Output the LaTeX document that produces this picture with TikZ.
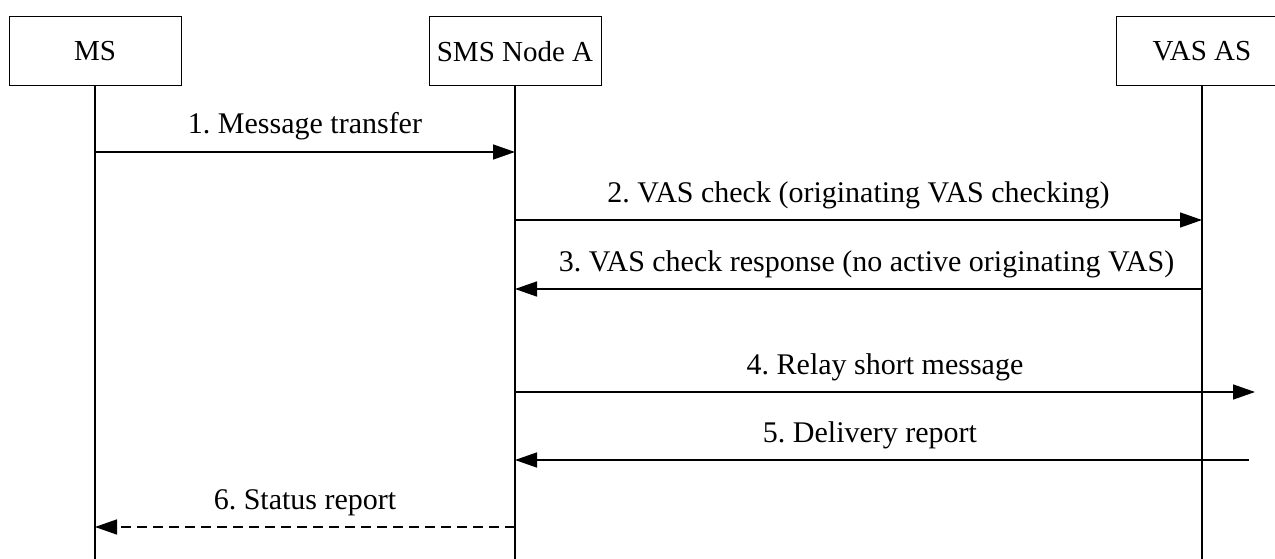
\documentclass[tikz,border=0pt]{standalone}
\usepackage{fontspec}
\setmainfont{Liberation Serif}
\frenchspacing
\usetikzlibrary{arrows.meta}
\begin{document}
\begin{tikzpicture}[x=1pt,y=-1pt,
  every node/.style={font=\fontsize{30}{33}\selectfont},
  entity/.style={draw, line width=1pt, minimum height=69pt, inner sep=0pt, font=\fontsize{29}{32}\selectfont},
  life/.style={line width=1.4pt},
  msg/.style={line width=1.5pt, -{Triangle[length=22pt,width=15pt]}},
  dmsg/.style={msg, dash pattern=on 10pt off 6pt},
  lbl/.style={anchor=base, yshift=18pt}]
\useasboundingbox (0,0) rectangle (1275,559);
% entities
\node[entity, minimum width=172pt] (ms) at (95,51.5) {MS};
\node[entity, minimum width=172pt] (sms) at (515,51.5) {SMS Node A};
\node[entity, minimum width=172pt] (vasbox) at (1202,51.5) {};
\node[font=\fontsize{29}{32}\selectfont] (vas) at (1202,51.5) {VAS AS};
% lifelines bottoms
\coordinate (msb) at (95,559);
\coordinate (smsb) at (515,559);
\coordinate (vasb) at (1202,559);
\draw[life] (ms.south) -- (msb);
\draw[life] (sms.south) -- (smsb);
\draw[life] (vasbox.south) -- (vasb);
% message endpoints
\coordinate (m1a) at (95,152);  \coordinate (m1b) at (515,152);
\coordinate (m2a) at (515,220); \coordinate (m2b) at (1202,220);
\coordinate (m3a) at (1202,289); \coordinate (m3b) at (515,289);
\coordinate (m4a) at (515,392); \coordinate (m4b) at (1255,392);
\coordinate (m5a) at (1249,460); \coordinate (m5b) at (515,460);
\coordinate (m6a) at (515,527); \coordinate (m6b) at (95,527);
\draw[msg] (m1a) -- node[lbl] (l1) {1. Message transfer} (m1b);
\draw[msg] (m2a) -- node[lbl] (l2) {2. VAS check (originating VAS checking)} (m2b);
\draw[msg] (m3a) -- node[lbl, xshift=8pt] (l3) {3. VAS check response (no active originating VAS)} (m3b);
\draw[msg] (m4a) -- node[lbl] (l4) {4. Relay short message} (m4b);
\draw[msg] (m5a) -- node[lbl, xshift=-12pt] (l5) {5. Delivery report} (m5b);
\draw[dmsg] (m6a) -- node[lbl] (l6) {6. Status report} (m6b);
\end{tikzpicture}
\end{document}
